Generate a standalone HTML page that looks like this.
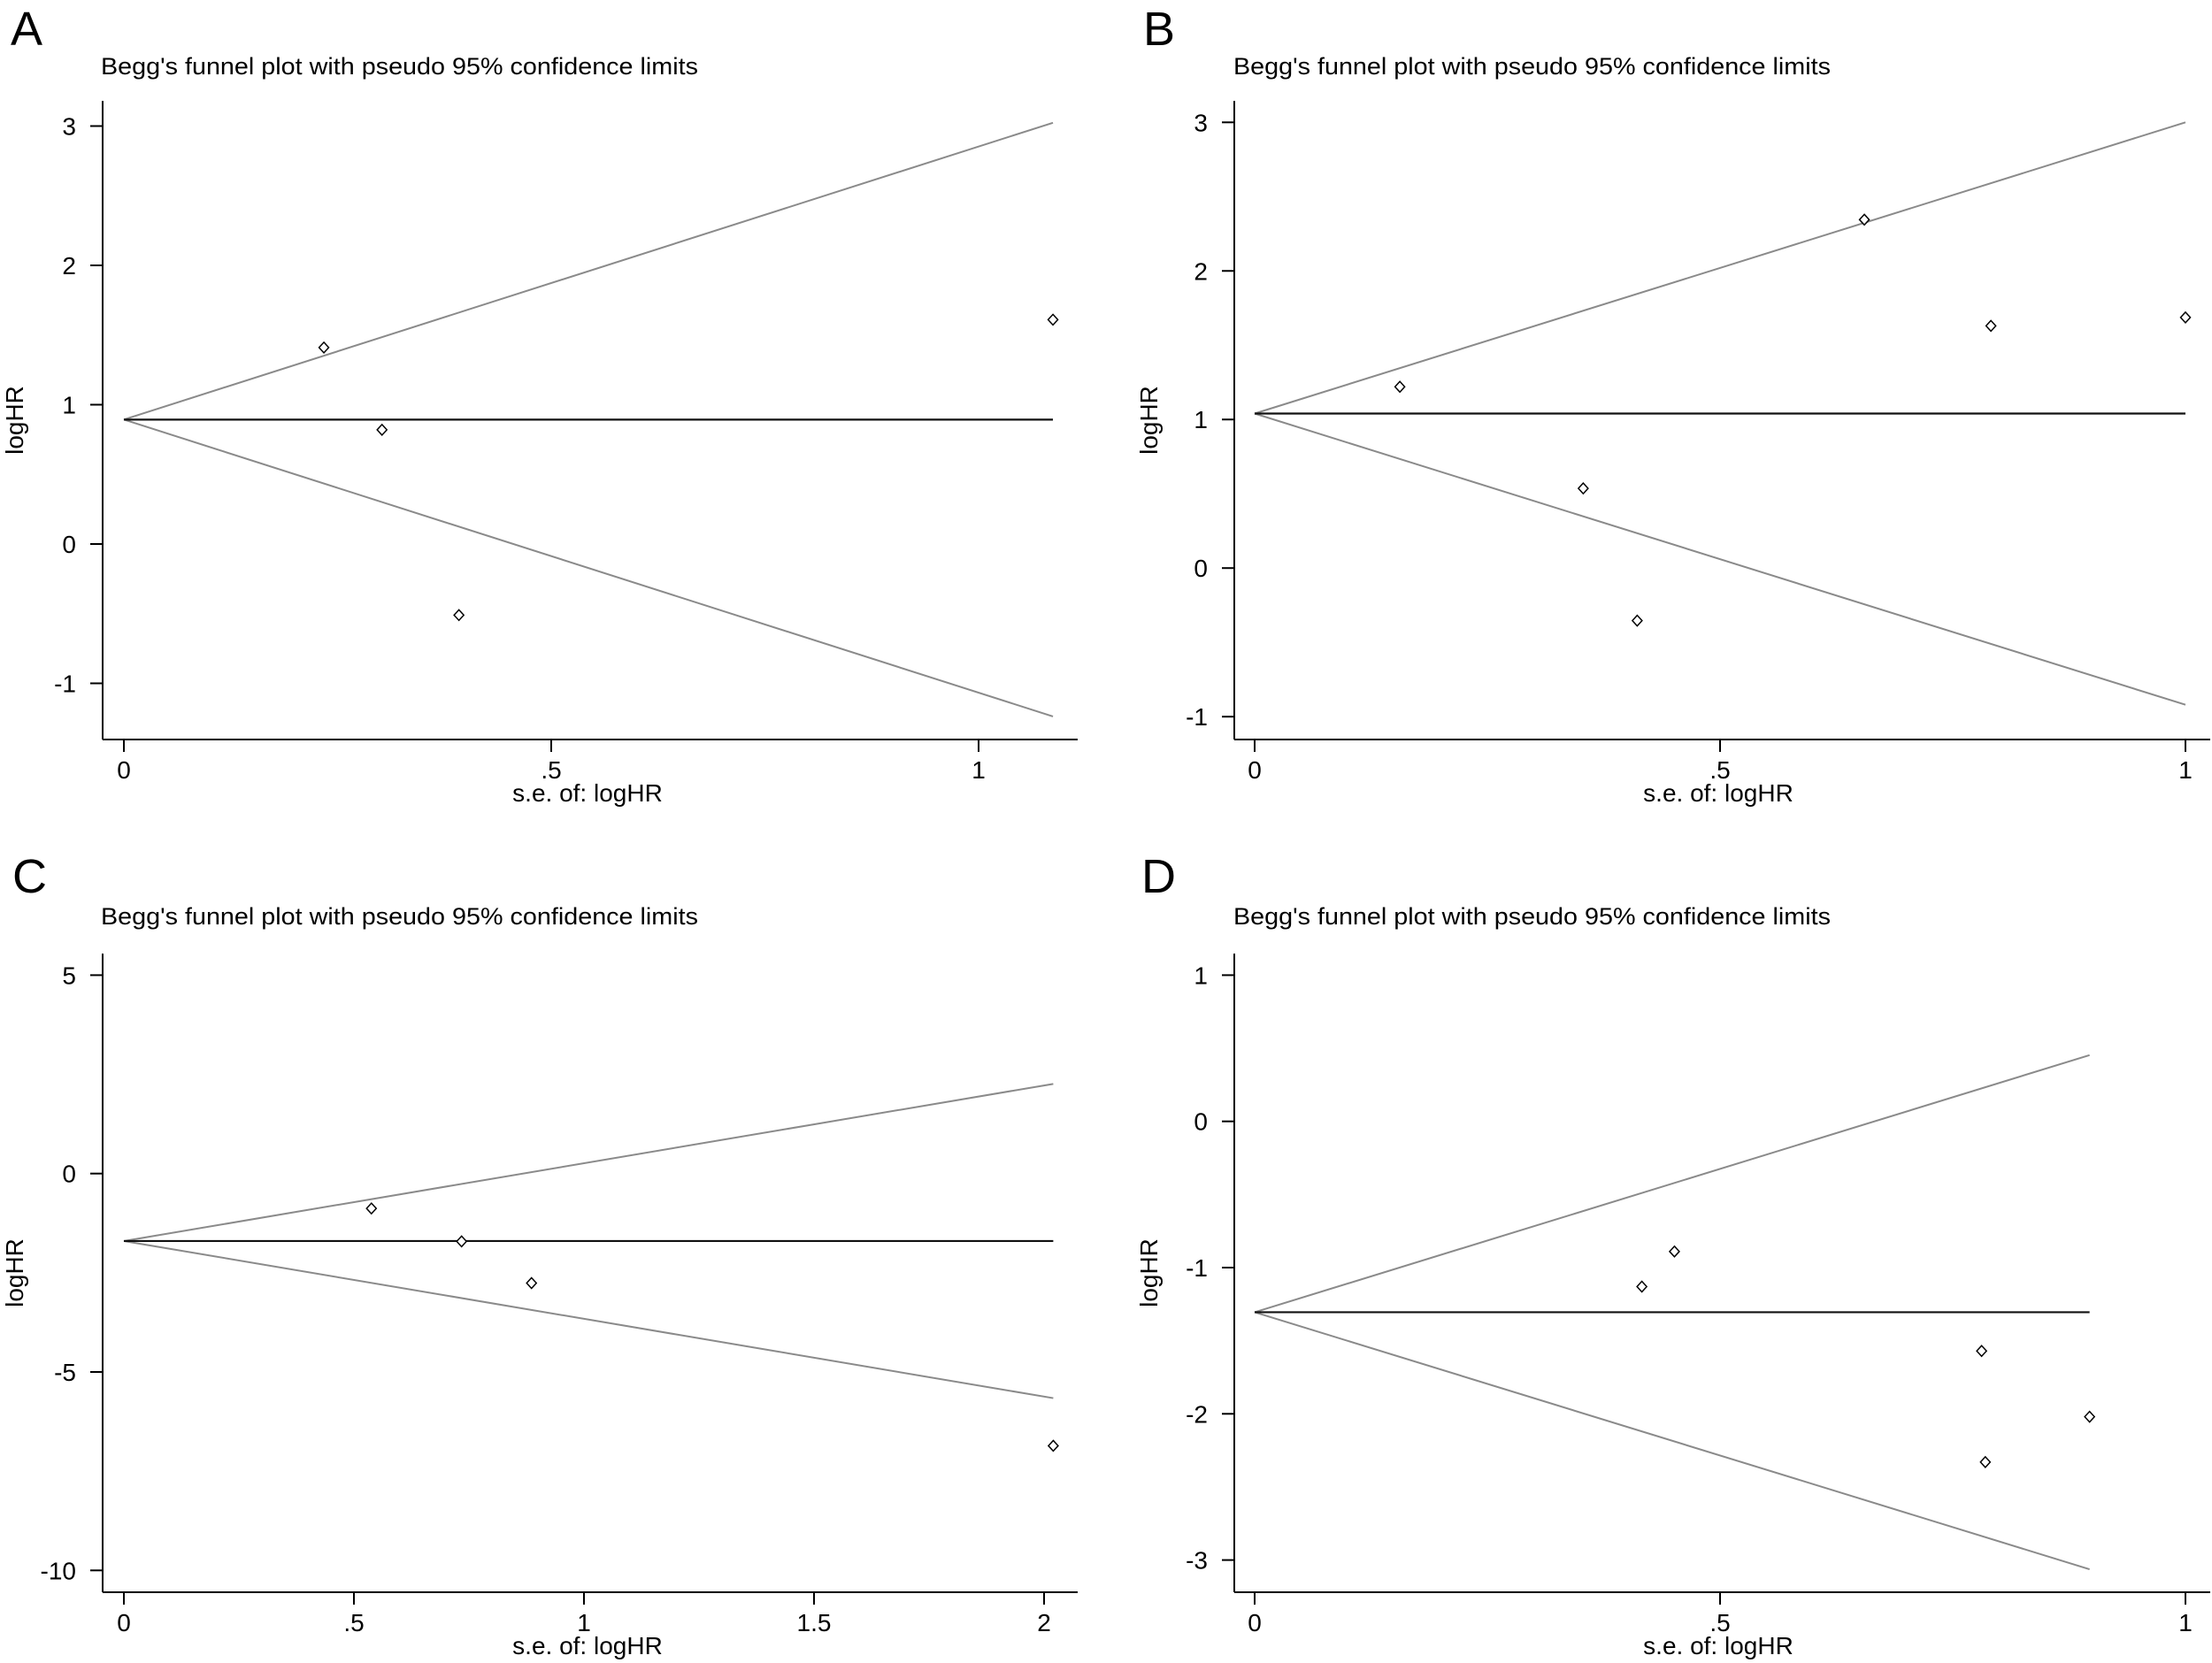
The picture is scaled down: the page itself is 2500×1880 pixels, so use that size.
<!DOCTYPE html>
<html><head><meta charset="utf-8"><style>
html,body{margin:0;padding:0;background:#fff;}
svg{display:block;}
text{font-family:"Liberation Sans Narrow","Liberation Sans",sans-serif;fill:#000;}
</style></head>
<body>
<svg id="fig" width="2500" height="1880" viewBox="0 0 2500 1880" xmlns="http://www.w3.org/2000/svg"></svg>
<script>
// Panel A data
const seA = [0.234, 0.302, 0.392, 1.087];
const logA = [1.41, 0.82, -0.51, 1.61];
const centerA = 0.893;
const xTicksA = [0, 0.5, 1];
const xTickLabelsA = ["0", ".5", "1"];
const yTicksA = [-1, 0, 1, 2, 3];
const yTickLabelsA = ["-1", "0", "1", "2", "3"];
// Panel B data
const seB = [0.156, 0.353, 0.411, 0.655, 0.791, 1.0];
const logB = [1.22, 0.536, -0.354, 2.345, 1.63, 1.687];
const centerB = 1.04;
const xTicksB = [0, 0.5, 1];
const xTickLabelsB = ["0", ".5", "1"];
const yTicksB = [-1, 0, 1, 2, 3];
const yTickLabelsB = ["-1", "0", "1", "2", "3"];
// Panel C data
const seC = [0.538, 0.734, 0.886, 2.02];
const logC = [-0.88, -1.71, -2.76, -6.86];
const centerC = -1.70;
const xTicksC = [0, 0.5, 1, 1.5, 2];
const xTickLabelsC = ["0", ".5", "1", "1.5", "2"];
const yTicksC = [-10, -5, 0, 5];
const yTickLabelsC = ["-10", "-5", "0", "5"];
// Panel D data
const seD = [0.416, 0.451, 0.781, 0.785, 0.897];
const logD = [-1.13, -0.89, -1.57, -2.33, -2.02];
const centerD = -1.305;
const xTicksD = [0, 0.5, 1];
const xTickLabelsD = ["0", ".5", "1"];
const yTicksD = [-3, -2, -1, 0, 1];
const yTickLabelsD = ["-3", "-2", "-1", "0", "1"];

const NS = "http://www.w3.org/2000/svg";
const svg = document.getElementById('fig');
function mk(tag, attrs, parent, txt) {
  const e = document.createElementNS(NS, tag);
  for (const k in attrs) e.setAttribute(k, attrs[k]);
  if (txt !== undefined) e.textContent = txt;
  parent.appendChild(e);
  return e;
}

function panel(cfg) {
  const g = mk('g', {}, svg);
  
  
  // pixel mapping from calibration
  const sx = v => cfg.x0 + (v - cfg.xv0) * (cfg.x1 - cfg.x0) / (cfg.xv1 - cfg.xv0);
  const sy = v => cfg.y0 + (v - cfg.yv0) * (cfg.y1 - cfg.y0) / (cfg.yv1 - cfg.yv0);

  const lt = mk('text', {x: cfg.letterX, y: cfg.letterY, 'font-size': 54}, g, cfg.id);
  
  
  const tt = mk('text', {x: cfg.titleX, y: cfg.titleY, 'font-size': 27, textLength: 675, lengthAdjust: 'spacingAndGlyphs'}, g, "Begg's funnel plot with pseudo 95% confidence limits");
  
  

  // axes
  const ya = mk('line', {x1: cfg.axL, y1: cfg.axT, x2: cfg.axL, y2: cfg.axB, stroke: '#000', 'stroke-width': 2}, g);
  
  
  const xa = mk('line', {x1: cfg.axL, y1: cfg.axB, x2: cfg.axR, y2: cfg.axB, stroke: '#000', 'stroke-width': 2}, g);
  
  

  cfg.yTicks.forEach((v, i) => {
    const y = sy(v);
    const tk = mk('line', {x1: cfg.axL - 14, y1: y, x2: cfg.axL, y2: y, stroke: '#000', 'stroke-width': 2}, g);
    
    
    const tl = mk('text', {x: cfg.axL - 30, y: y + 10, 'font-size': 28, 'text-anchor': 'end'}, g, cfg.yLabels[i]);
    
    
  });
  cfg.xTicks.forEach((v, i) => {
    const x = sx(v);
    const tk = mk('line', {x1: x, y1: cfg.axB, x2: x, y2: cfg.axB + 14, stroke: '#000', 'stroke-width': 2}, g);
    
    
    const tl = mk('text', {x: x, y: cfg.axB + 44, 'font-size': 28, 'text-anchor': 'middle'}, g, cfg.xLabels[i]);
    
    
  });
  const xl = mk('text', {x: cfg.xLabX, y: cfg.xLabY, 'font-size': 28, 'text-anchor': 'middle'}, g, 's.e. of: logHR');
  
  
  const yl = mk('text', {x: 0, y: 0, 'font-size': 28, 'text-anchor': 'middle', transform: `translate(${cfg.yLabX},${cfg.yLabY}) rotate(-90)`}, g, 'logHR');
  
  

  // funnel lines
  const seMax = Math.max(...cfg.se);
  const c = cfg.center;
  const up = mk('line', {x1: sx(0), y1: sy(c), x2: sx(seMax), y2: sy(c + 1.96 * seMax), stroke: '#8a8a8a', 'stroke-width': 2}, g);
  
  
  const lo = mk('line', {x1: sx(0), y1: sy(c), x2: sx(seMax), y2: sy(c - 1.96 * seMax), stroke: '#8a8a8a', 'stroke-width': 2}, g);
  
  
  const cl = mk('line', {x1: sx(0), y1: sy(c), x2: sx(seMax), y2: sy(c), stroke: '#111', 'stroke-width': 2.2}, g);
  
  

  cfg.se.forEach((s, i) => {
    const x = sx(s), y = sy(cfg.val[i]);
    const p = mk('polygon', {points: `${x},${y-6} ${x+5.5},${y} ${x},${y+6} ${x-5.5},${y}`, fill: '#fff', stroke: '#000', 'stroke-width': 1.5}, g);
    
    
  });
}

panel({id:'A', se: seA, val: logA, center: centerA, xTicks: xTicksA, xLabels: xTickLabelsA, yTicks: yTicksA, yLabels: yTickLabelsA,
  x0:140, xv0:0, x1:1106, xv1:1, y0:615, yv0:0, y1:142.5, yv1:3,
  axL:116, axR:1218, axT:114, axB:836, letterX:12, letterY:51, titleX:114, titleY:84,
  xLabX:664, xLabY:906, yLabX:26, yLabY:475});
panel({id:'B', se: seB, val: logB, center: centerB, xTicks: xTicksB, xLabels: xTickLabelsB, yTicks: yTicksB, yLabels: yTickLabelsB,
  x0:1418, xv0:0, x1:2470, xv1:1, y0:642.2, yv0:0, y1:138.3, yv1:3,
  axL:1395, axR:2498, axT:114, axB:836, letterX:1292, letterY:51, titleX:1394, titleY:84,
  xLabX:1942, xLabY:906, yLabX:1308, yLabY:475});
panel({id:'C', se: seC, val: logC, center: centerC, xTicks: xTicksC, xLabels: xTickLabelsC, yTicks: yTicksC, yLabels: yTickLabelsC,
  x0:140, xv0:0, x1:1180, xv1:2, y0:1326.7, yv0:0, y1:1102.4, yv1:5,
  axL:116, axR:1218, axT:1078, axB:1800, letterX:14, letterY:1009, titleX:114, titleY:1045,
  xLabX:664, xLabY:1870, yLabX:26, yLabY:1439});
panel({id:'D', se: seD, val: logD, center: centerD, xTicks: xTicksD, xLabels: xTickLabelsD, yTicks: yTicksD, yLabels: yTickLabelsD,
  x0:1418, xv0:0, x1:2470, xv1:1, y0:1267.7, yv0:0, y1:1102.4, yv1:1,
  axL:1395, axR:2498, axT:1078, axB:1800, letterX:1290, letterY:1009, titleX:1394, titleY:1045,
  xLabX:1942, xLabY:1870, yLabX:1308, yLabY:1439});
</script>
</body></html>
